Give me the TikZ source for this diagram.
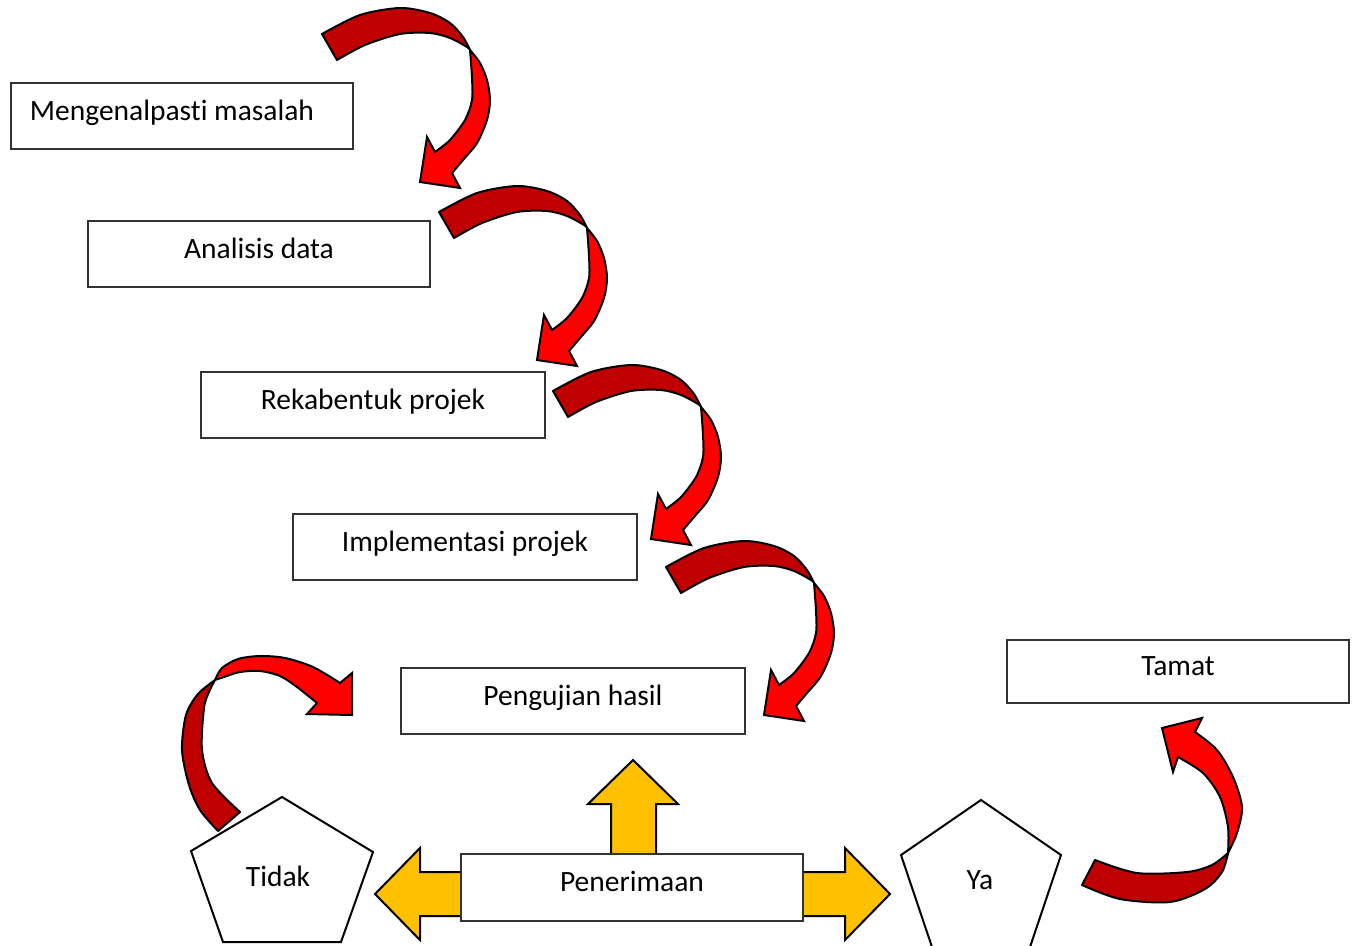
\documentclass[tikz,border=0pt]{standalone}
\usepackage{fontspec}
\setmainfont{Carlito}[Ligatures=NoCommon]
\definecolor{darkred}{HTML}{C00000}
\definecolor{brightred}{HTML}{FF0000}
\definecolor{amber}{HTML}{FFC000}
\begin{document}
\begin{tikzpicture}[x=1pt,y=-1pt,
  box/.style={draw=black!80, line width=1.2pt, fill=white, minimum width=342pt, minimum height=66pt, inner sep=0pt, text height=21pt, text depth=13pt, font=\fontsize{29.5}{35}\selectfont},
  back/.style={fill=darkred, draw=black, line width=2pt, line join=round},
  front/.style={fill=brightred, draw=black, line width=2pt, line join=miter},
  yarrow/.style={fill=amber, draw=black, line width=2pt, line join=miter},
  penta/.style={fill=white, draw=black, line width=2pt, line join=miter},
  lbl/.style={font=\fontsize{29.5}{35}\selectfont, inner sep=0pt},
  curvearrow/.pic={
    \filldraw[back] plot[smooth] coordinates {(322,34) (360,15) (400,8) (430,13) (450,23) (463,37) (470,50)}
      -- plot[smooth] coordinates {(470,50) (467,47) (450,38) (430,33) (400,34) (365,45) (337,60)} -- cycle;
    \filldraw[front] plot[smooth] coordinates {(470,50) (480,63) (487,80) (490,100) (487,120) (477,143) (463,160) (452,173)}
      -- (460,188) -- (420,182) -- (427,137) -- (435,152)
      -- plot[smooth] coordinates {(435,152) (450,140) (465,120) (472,100) (472,78) (470,50)} -- cycle;
  }]
\useasboundingbox (0,0) rectangle (1356,945);

% cascading curved arrows
\pic at (0,0) {curvearrow};
\pic at (117,178) {curvearrow};
\pic at (231,357) {curvearrow};
\pic at (344,533) {curvearrow};

% Tidak loop arrow
\filldraw[back] plot[smooth] coordinates {(218,831) (200,810) (189,785) (182,750) (186,715) (198,694) (215,680)}
  -- plot[smooth] coordinates {(215,680) (209,692) (204,708) (202,750) (212,783) (240,812)} -- cycle;
\filldraw[front] plot[smooth] coordinates {(215,680) (222,668) (238,659) (260,656) (285,658) (313,667) (340,683)}
  -- (352,673) -- (352,715) -- (307,714) -- (317,703)
  -- plot[smooth] coordinates {(317,703) (297,687) (280,676) (260,671) (240,672) (224,677) (215,680)} -- cycle;

% Tamat arrow
\filldraw[back] plot[smooth] coordinates {(1082,885) (1120,899) (1170,902) (1205,889) (1222,872) (1228,853)}
  -- plot[smooth] coordinates {(1228,853) (1212,865) (1187,872) (1137,873) (1095,860)} -- cycle;
\filldraw[front] plot[smooth] coordinates {(1228,853) (1237,833) (1242,807) (1233,777) (1217,750) (1195,732)}
  -- (1202,718) -- (1162,728) -- (1173,772) -- (1178,757)
  -- plot[smooth] coordinates {(1178,757) (1203,773) (1220,797) (1228,827) (1228,853)} -- cycle;

% yellow block arrows
\filldraw[yarrow] (611,856) -- (611,804) -- (588,804) -- (633,760) -- (678,804) -- (656,804) -- (656,856) -- cycle;
\filldraw[yarrow] (463,872) -- (420,872) -- (420,848) -- (375,894) -- (420,940) -- (420,916) -- (463,916) -- cycle;
\filldraw[yarrow] (801,872) -- (845,872) -- (845,848) -- (890,894) -- (845,940) -- (845,916) -- (801,916) -- cycle;

% boxes
\node[box] (b1) at (182,116) {Mengenalpasti masalah\hspace*{20pt}};
\node[box] (b2) at (259,254) {Analisis data};
\node[box, minimum width=344pt] (b3) at (373,405) {Rekabentuk projek};
\node[box, minimum width=344pt] (b4) at (465,547) {Implementasi projek};
\node[box, minimum width=344pt] (b5) at (573,701) {Pengujian hasil};
\node[box, minimum height=63pt] (b6) at (1178,671.5) {Tamat};
\node[box, minimum height=67pt] (b7) at (632,887.5) {Penerimaan};

% pentagons
\filldraw[penta] (282,797) -- (373,852) -- (341,942) -- (223,942) -- (191,851) -- cycle;
\filldraw[penta] (981,800) -- (1061,855) -- (1030,947) -- (932,947) -- (901,855) -- cycle;
\node[lbl] (tidak) at (278,876) {Tidak};
\node[lbl] (ya) at (980,880) {Ya};
\end{tikzpicture}
\end{document}
